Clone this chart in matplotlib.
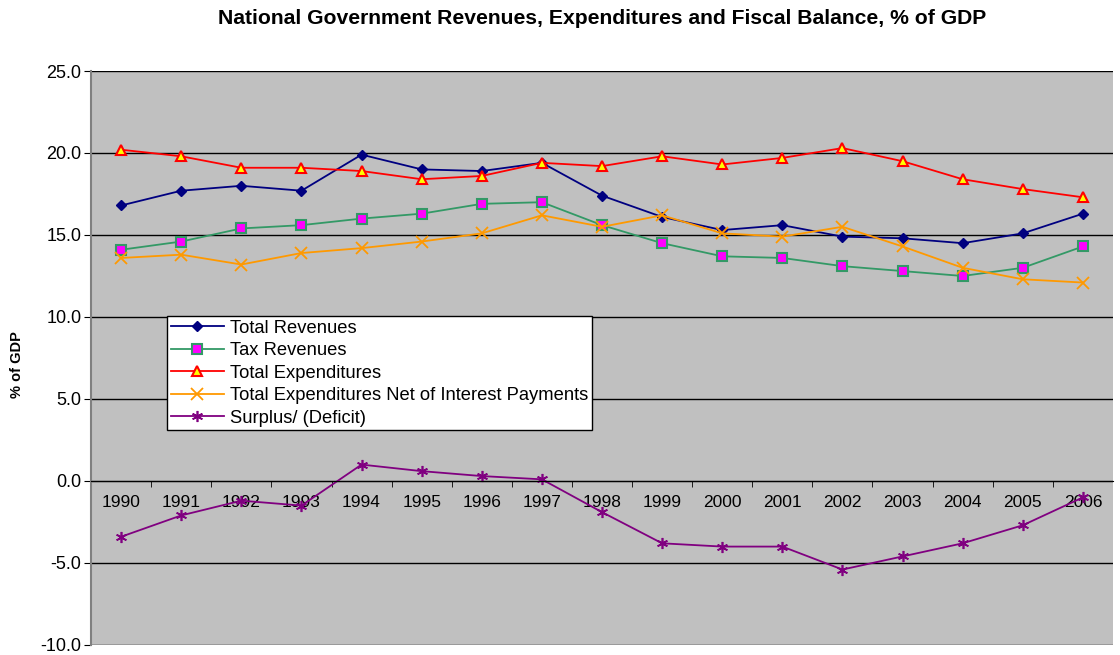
import numpy as np
import matplotlib.pyplot as plt
from matplotlib.ticker import MultipleLocator, FixedLocator

plt.rcParams['font.family'] = ['Liberation Sans', 'DejaVu Sans']

years = [str(y) for y in range(1990, 2007)]

total_revenues = [16.8, 17.7, 18.0, 17.7, 19.9, 19.0, 18.9, 19.4, 17.4, 16.1,
                  15.3, 15.6, 14.9, 14.8, 14.5, 15.1, 16.3]
tax_revenues = [14.1, 14.6, 15.4, 15.6, 16.0, 16.3, 16.9, 17.0, 15.6, 14.5,
                13.7, 13.6, 13.1, 12.8, 12.5, 13.0, 14.3]
total_expenditures = [20.2, 19.8, 19.1, 19.1, 18.9, 18.4, 18.6, 19.4, 19.2, 19.8,
                      19.3, 19.7, 20.3, 19.5, 18.4, 17.8, 17.3]
exp_net_interest = [13.6, 13.8, 13.2, 13.9, 14.2, 14.6, 15.1, 16.2, 15.5, 16.2,
                    15.1, 14.9, 15.5, 14.3, 13.0, 12.3, 12.1]
surplus_deficit = [-3.4, -2.1, -1.2, -1.5, 1.0, 0.6, 0.3, 0.1, -1.9, -3.8,
                   -4.0, -4.0, -5.4, -4.6, -3.8, -2.7, -1.0]

x = np.arange(len(years))

fig = plt.figure(figsize=(11.2, 6.55), dpi=100)
ax = fig.add_axes([0.0813, 0.0153, 0.9124, 0.8763])
ax.set_facecolor('#C0C0C0')

ax.plot(x, total_revenues, color='#000080', lw=1.3, marker='D', ms=5.5,
        mfc='#000080', mec='#000080', label='Total Revenues')
ax.plot(x, tax_revenues, color='#339966', lw=1.3, marker='s', ms=6.5,
        mfc='#FF00FF', mec='#339966', mew=1.5, label='Tax Revenues')
ax.plot(x, total_expenditures, color='#FF0000', lw=1.3, marker='^', ms=7.5,
        mfc='#FFFF00', mec='#FF0000', mew=1.5, label='Total Expenditures')
ax.plot(x, exp_net_interest, color='#FF9900', lw=1.3, marker='x', ms=8,
        mew=1.3, label='Total Expenditures Net of Interest Payments')
ax.plot(x, surplus_deficit, color='#800080', lw=1.3, marker=(6, 2, 0), ms=8,
        mew=1.2, label='Surplus/ (Deficit)')

ax.set_xlim(-0.5, len(years) - 0.5)
ax.set_ylim(-10, 25)
ax.yaxis.set_major_locator(MultipleLocator(5))
ax.yaxis.set_major_formatter(lambda v, p: f'{v:.1f}')
ax.grid(axis='y', color='black', lw=1)
ax.set_axisbelow(True)

# category axis crosses at zero, ticks between categories
ax.spines['bottom'].set_position(('data', 0))
ax.spines['bottom'].set_color('black')
ax.spines['top'].set_visible(False)
ax.spines['right'].set_visible(False)
ax.spines['left'].set_color('#808080')
ax.spines['left'].set_linewidth(1.5)
ax.set_xticks(x)
ax.set_xticklabels(years)
ax.xaxis.set_minor_locator(FixedLocator(np.arange(0.5, len(years) - 0.5)))
ax.tick_params(axis='x', which='major', length=0, pad=10, labelsize=12.5)
ax.tick_params(axis='x', which='minor', length=4, direction='out', color='black')
ax.tick_params(axis='y', length=5, direction='out', color='black', labelsize=13, pad=2)

ax.set_ylabel('% of GDP', fontsize=10.5, fontweight='bold')
ax.yaxis.set_label_coords(-0.066, 0.488)

fig.suptitle('National Government Revenues, Expenditures and Fiscal Balance, % of GDP',
             fontsize=15.2, fontweight='bold', x=0.5375, y=0.987)

leg = ax.legend(loc='upper left', bbox_to_anchor=(0.0744, 0.573), fontsize=13.2,
                frameon=True, fancybox=False, framealpha=1, edgecolor='black',
                borderpad=0.2, labelspacing=0.3, handlelength=2.9,
                handletextpad=0.35, borderaxespad=0)
leg.get_frame().set_linewidth(1)

fig.savefig('out.png', dpi=100)
